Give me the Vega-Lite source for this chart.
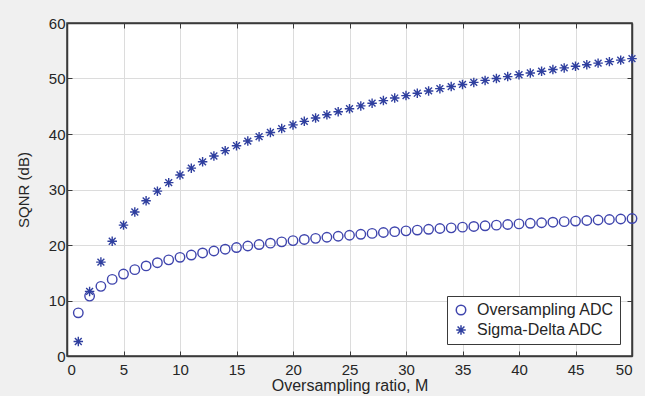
{
  "$schema": "https://vega.github.io/schema/vega-lite/v6.json",
  "width": 565,
  "height": 333,
  "autosize": {"type": "none"},
  "padding": {"left": 67, "top": 23, "right": 13, "bottom": 40},
  "background": "#f0f0f0",
  "config": {
    "font": "Liberation Sans",
    "view": {"fill": "white", "stroke": "#3a3a3a", "strokeWidth": 1.5},
    "axis": {
      "labelFont": "Liberation Sans",
      "titleFont": "Liberation Sans",
      "labelFontSize": 15,
      "titleFontSize": 15,
      "titleFontWeight": "normal",
      "labelColor": "#262626",
      "titleColor": "#262626",
      "domainColor": "#3a3a3a",
      "domainWidth": 1.5,
      "tickColor": "#3a3a3a",
      "tickSize": -5,
      "gridColor": "#dcdcdc",
      "gridWidth": 1
    },
    "legend": {
      "labelFont": "Liberation Sans",
      "labelFontSize": 15,
      "labelColor": "#262626",
      "strokeColor": "#3a3a3a",
      "fillColor": "white",
      "padding": 6,
      "rowPadding": 4
    }
  },
  "data": {
    "values": [
      {"M": 1, "series": "Oversampling ADC", "sqnr": 7.78},
      {"M": 2, "series": "Oversampling ADC", "sqnr": 10.79},
      {"M": 3, "series": "Oversampling ADC", "sqnr": 12.55},
      {"M": 4, "series": "Oversampling ADC", "sqnr": 13.8},
      {"M": 5, "series": "Oversampling ADC", "sqnr": 14.77},
      {"M": 6, "series": "Oversampling ADC", "sqnr": 15.56},
      {"M": 7, "series": "Oversampling ADC", "sqnr": 16.23},
      {"M": 8, "series": "Oversampling ADC", "sqnr": 16.81},
      {"M": 9, "series": "Oversampling ADC", "sqnr": 17.32},
      {"M": 10, "series": "Oversampling ADC", "sqnr": 17.78},
      {"M": 11, "series": "Oversampling ADC", "sqnr": 18.19},
      {"M": 12, "series": "Oversampling ADC", "sqnr": 18.57},
      {"M": 13, "series": "Oversampling ADC", "sqnr": 18.92},
      {"M": 14, "series": "Oversampling ADC", "sqnr": 19.24},
      {"M": 15, "series": "Oversampling ADC", "sqnr": 19.54},
      {"M": 16, "series": "Oversampling ADC", "sqnr": 19.82},
      {"M": 17, "series": "Oversampling ADC", "sqnr": 20.08},
      {"M": 18, "series": "Oversampling ADC", "sqnr": 20.33},
      {"M": 19, "series": "Oversampling ADC", "sqnr": 20.57},
      {"M": 20, "series": "Oversampling ADC", "sqnr": 20.79},
      {"M": 21, "series": "Oversampling ADC", "sqnr": 21.0},
      {"M": 22, "series": "Oversampling ADC", "sqnr": 21.2},
      {"M": 23, "series": "Oversampling ADC", "sqnr": 21.4},
      {"M": 24, "series": "Oversampling ADC", "sqnr": 21.58},
      {"M": 25, "series": "Oversampling ADC", "sqnr": 21.76},
      {"M": 26, "series": "Oversampling ADC", "sqnr": 21.93},
      {"M": 27, "series": "Oversampling ADC", "sqnr": 22.09},
      {"M": 28, "series": "Oversampling ADC", "sqnr": 22.25},
      {"M": 29, "series": "Oversampling ADC", "sqnr": 22.4},
      {"M": 30, "series": "Oversampling ADC", "sqnr": 22.55},
      {"M": 31, "series": "Oversampling ADC", "sqnr": 22.69},
      {"M": 32, "series": "Oversampling ADC", "sqnr": 22.83},
      {"M": 33, "series": "Oversampling ADC", "sqnr": 22.97},
      {"M": 34, "series": "Oversampling ADC", "sqnr": 23.09},
      {"M": 35, "series": "Oversampling ADC", "sqnr": 23.22},
      {"M": 36, "series": "Oversampling ADC", "sqnr": 23.34},
      {"M": 37, "series": "Oversampling ADC", "sqnr": 23.46},
      {"M": 38, "series": "Oversampling ADC", "sqnr": 23.58},
      {"M": 39, "series": "Oversampling ADC", "sqnr": 23.69},
      {"M": 40, "series": "Oversampling ADC", "sqnr": 23.8},
      {"M": 41, "series": "Oversampling ADC", "sqnr": 23.91},
      {"M": 42, "series": "Oversampling ADC", "sqnr": 24.01},
      {"M": 43, "series": "Oversampling ADC", "sqnr": 24.11},
      {"M": 44, "series": "Oversampling ADC", "sqnr": 24.21},
      {"M": 45, "series": "Oversampling ADC", "sqnr": 24.31},
      {"M": 46, "series": "Oversampling ADC", "sqnr": 24.41},
      {"M": 47, "series": "Oversampling ADC", "sqnr": 24.5},
      {"M": 48, "series": "Oversampling ADC", "sqnr": 24.59},
      {"M": 49, "series": "Oversampling ADC", "sqnr": 24.68},
      {"M": 50, "series": "Oversampling ADC", "sqnr": 24.77},
      {"M": 1, "series": "Sigma-Delta ADC", "sqnr": 2.61},
      {"M": 2, "series": "Sigma-Delta ADC", "sqnr": 11.64},
      {"M": 3, "series": "Sigma-Delta ADC", "sqnr": 16.92},
      {"M": 4, "series": "Sigma-Delta ADC", "sqnr": 20.67},
      {"M": 5, "series": "Sigma-Delta ADC", "sqnr": 23.58},
      {"M": 6, "series": "Sigma-Delta ADC", "sqnr": 25.95},
      {"M": 7, "series": "Sigma-Delta ADC", "sqnr": 27.96},
      {"M": 8, "series": "Sigma-Delta ADC", "sqnr": 29.7},
      {"M": 9, "series": "Sigma-Delta ADC", "sqnr": 31.24},
      {"M": 10, "series": "Sigma-Delta ADC", "sqnr": 32.61},
      {"M": 11, "series": "Sigma-Delta ADC", "sqnr": 33.85},
      {"M": 12, "series": "Sigma-Delta ADC", "sqnr": 34.99},
      {"M": 13, "series": "Sigma-Delta ADC", "sqnr": 36.03},
      {"M": 14, "series": "Sigma-Delta ADC", "sqnr": 37.0},
      {"M": 15, "series": "Sigma-Delta ADC", "sqnr": 37.89},
      {"M": 16, "series": "Sigma-Delta ADC", "sqnr": 38.73},
      {"M": 17, "series": "Sigma-Delta ADC", "sqnr": 39.52},
      {"M": 18, "series": "Sigma-Delta ADC", "sqnr": 40.27},
      {"M": 19, "series": "Sigma-Delta ADC", "sqnr": 40.97},
      {"M": 20, "series": "Sigma-Delta ADC", "sqnr": 41.64},
      {"M": 21, "series": "Sigma-Delta ADC", "sqnr": 42.28},
      {"M": 22, "series": "Sigma-Delta ADC", "sqnr": 42.88},
      {"M": 23, "series": "Sigma-Delta ADC", "sqnr": 43.46},
      {"M": 24, "series": "Sigma-Delta ADC", "sqnr": 44.02},
      {"M": 25, "series": "Sigma-Delta ADC", "sqnr": 44.55},
      {"M": 26, "series": "Sigma-Delta ADC", "sqnr": 45.06},
      {"M": 27, "series": "Sigma-Delta ADC", "sqnr": 45.55},
      {"M": 28, "series": "Sigma-Delta ADC", "sqnr": 46.02},
      {"M": 29, "series": "Sigma-Delta ADC", "sqnr": 46.48},
      {"M": 30, "series": "Sigma-Delta ADC", "sqnr": 46.92},
      {"M": 31, "series": "Sigma-Delta ADC", "sqnr": 47.35},
      {"M": 32, "series": "Sigma-Delta ADC", "sqnr": 47.76},
      {"M": 33, "series": "Sigma-Delta ADC", "sqnr": 48.17},
      {"M": 34, "series": "Sigma-Delta ADC", "sqnr": 48.55},
      {"M": 35, "series": "Sigma-Delta ADC", "sqnr": 48.93},
      {"M": 36, "series": "Sigma-Delta ADC", "sqnr": 49.3},
      {"M": 37, "series": "Sigma-Delta ADC", "sqnr": 49.66},
      {"M": 38, "series": "Sigma-Delta ADC", "sqnr": 50.0},
      {"M": 39, "series": "Sigma-Delta ADC", "sqnr": 50.34},
      {"M": 40, "series": "Sigma-Delta ADC", "sqnr": 50.67},
      {"M": 41, "series": "Sigma-Delta ADC", "sqnr": 50.99},
      {"M": 42, "series": "Sigma-Delta ADC", "sqnr": 51.31},
      {"M": 43, "series": "Sigma-Delta ADC", "sqnr": 51.61},
      {"M": 44, "series": "Sigma-Delta ADC", "sqnr": 51.91},
      {"M": 45, "series": "Sigma-Delta ADC", "sqnr": 52.21},
      {"M": 46, "series": "Sigma-Delta ADC", "sqnr": 52.49},
      {"M": 47, "series": "Sigma-Delta ADC", "sqnr": 52.77},
      {"M": 48, "series": "Sigma-Delta ADC", "sqnr": 53.04},
      {"M": 49, "series": "Sigma-Delta ADC", "sqnr": 53.31},
      {"M": 50, "series": "Sigma-Delta ADC", "sqnr": 53.58}
    ]
  },
  "layer": [
    {
      "mark": {"type": "point", "filled": false, "strokeWidth": 1.4, "size": 90, "opacity": 1},
      "encoding": {
        "x": {
          "field": "M", "type": "quantitative",
          "scale": {"domain": [0, 50], "nice": false},
          "axis": {"values": [0, 5, 10, 15, 20, 25, 30, 35, 40, 45, 50], "title": "Oversampling ratio, M", "labelPadding": 11, "titlePadding": 0, "titleFontSize": 16}
        },
        "y": {
          "field": "sqnr", "type": "quantitative",
          "scale": {"domain": [0, 60], "nice": false},
          "axis": {"values": [0, 10, 20, 30, 40, 50, 60], "title": "SQNR (dB)", "labelPadding": 7, "titlePadding": 17}
        },
        "shape": {
          "field": "series", "type": "nominal",
          "scale": {
            "domain": ["Oversampling ADC", "Sigma-Delta ADC"],
            "range": ["circle", "M0,-1L0,1M-1,0L1,0M-0.72,-0.72L0.72,0.72M-0.72,0.72L0.72,-0.72"]
          },
          "legend": {
            "title": null,
            "orient": "bottom-right",
            "offset": 12,
            "symbolStrokeWidth": 1.5,
            "symbolSize": 90,
            "labelOffset": 8,
            "labelFontSize": 16
          }
        },
        "color": {
          "field": "series", "type": "nominal",
          "scale": {"domain": ["Oversampling ADC", "Sigma-Delta ADC"], "range": ["#3f45ad", "#2f3f9f"]}
        }
      }
    },
    {
      "mark": {"type": "point", "opacity": 0},
      "encoding": {
        "x": {
          "field": "M", "type": "quantitative",
          "scale": {"domain": [0, 50], "nice": false},
          "axis": {"orient": "top", "values": [0, 5, 10, 15, 20, 25, 30, 35, 40, 45, 50], "labels": false, "grid": false, "title": null}
        },
        "y": {
          "field": "sqnr", "type": "quantitative",
          "scale": {"domain": [0, 60], "nice": false},
          "axis": {"orient": "right", "values": [0, 10, 20, 30, 40, 50, 60], "labels": false, "grid": false, "title": null}
        }
      }
    }
  ],
  "resolve": {"axis": {"x": "independent", "y": "independent"}}
}
